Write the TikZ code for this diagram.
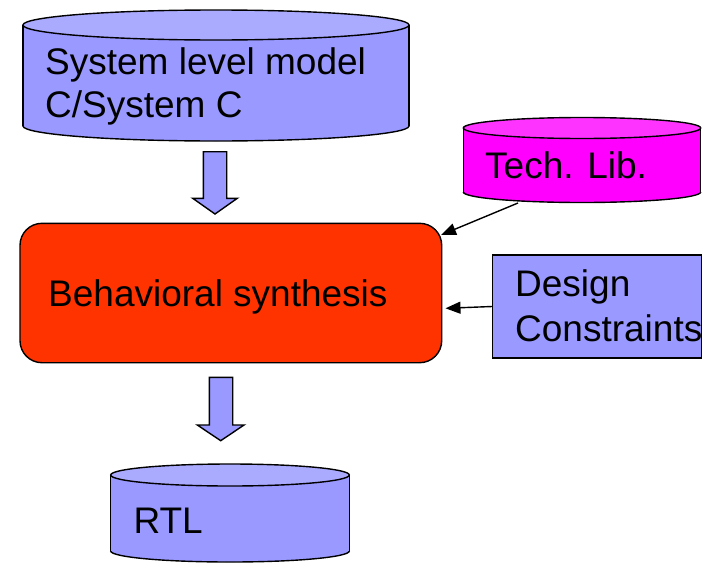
\documentclass[tikz,border=0pt]{standalone}
\usepackage{fontspec}
\setmainfont{Liberation Sans}
\usetikzlibrary{arrows.meta}
\definecolor{lav}{HTML}{9999FF}
\definecolor{lavtop}{HTML}{AAAAFF}
\definecolor{mag}{HTML}{FF00FF}
\definecolor{magtop}{HTML}{FF33FF}
\definecolor{synred}{HTML}{FF3300}
\newcommand\mycyl[7]{% x1 x2 ytop ybot ry body top
  \pgfmathsetmacro\cx{(#1+#2)/2}\pgfmathsetmacro\rx{(#2-#1)/2}
  \fill[#6] (#1,#3) rectangle (#2,#4);
  \fill[#6] (\cx,#4) ellipse[x radius=\rx, y radius=#5];
  \begin{scope}\clip (#1-5,#4) rectangle (#2+5,#4+#5+5);
    \draw[outl] (\cx,#4) ellipse[x radius=\rx, y radius=#5];
  \end{scope}
  \draw[outl] (#1,#3) -- (#1,#4) (#2,#3) -- (#2,#4);
  \filldraw[outl,fill=#7] (\cx,#3) ellipse[x radius=\rx, y radius=#5];
}
\begin{document}
\begin{tikzpicture}[x=1pt,y=-1pt,
  outl/.style={draw=black,line width=1.4pt},
  lbl/.style={anchor=base west,inner sep=0pt,font=\fontsize{37}{43}\selectfont},
  conn/.style={line width=1.4pt,-{Triangle[length=15pt,width=12pt]}},
  blockarrow/.style={outl,fill=lav,line join=miter}]
\useasboundingbox (0,0) rectangle (703,562);
% system level model cylinder
\mycyl{23}{409}{25}{126}{15}{lav}{lavtop}
\node[lbl] (sys1) at (45,74) {System level model};
\node[lbl] (sys2) at (45,117) {C/System C};
% block arrow 1
\draw[blockarrow] (203.3,151.7) -- (226.7,151.7) -- (226.7,198.3) -- (237.3,198.3)
  -- (215,214) -- (192.7,198.3) -- (203.3,198.3) -- cycle;
% tech lib cylinder
\mycyl{463.3}{700.7}{128}{192}{10.5}{mag}{magtop}
\node[lbl] (tech) at (485,178) {Tech. Lib.};
% behavioral synthesis
\node[outl,fill=synred,rounded corners=22pt,minimum width=421.7pt,minimum height=139.4pt,inner sep=0pt] (syn) at (230.85,293) {};
\node[lbl] (syntxt) at (48,306.7) {Behavioral synthesis};
% design constraints
\node[outl,fill=lav,minimum width=209pt,minimum height=103pt,inner sep=0pt] (dc) at (597.2,306.5) {};
\node[lbl] (dc1) at (515,296.7) {Design};
\node[lbl] (dc2) at (515,341.7) {Constraints};
% connectors
\coordinate (tlout) at (518,203);
\coordinate (synin1) at (441,235);
\coordinate (synin2) at (445.5,308.3);
\draw[conn] (tlout) -- (synin1);
\draw[conn] (dc.west) -- (synin2);
% block arrow 2
\draw[blockarrow] (209.3,377.3) -- (232.7,377.3) -- (232.7,425) -- (244,425)
  -- (220.7,440.7) -- (197.3,425) -- (209.3,425) -- cycle;
% RTL cylinder
\mycyl{110.7}{349.3}{475}{551}{11}{lav}{lavtop}
\node[lbl] (rtl) at (133.3,533) {RTL};
\end{tikzpicture}
\end{document}
